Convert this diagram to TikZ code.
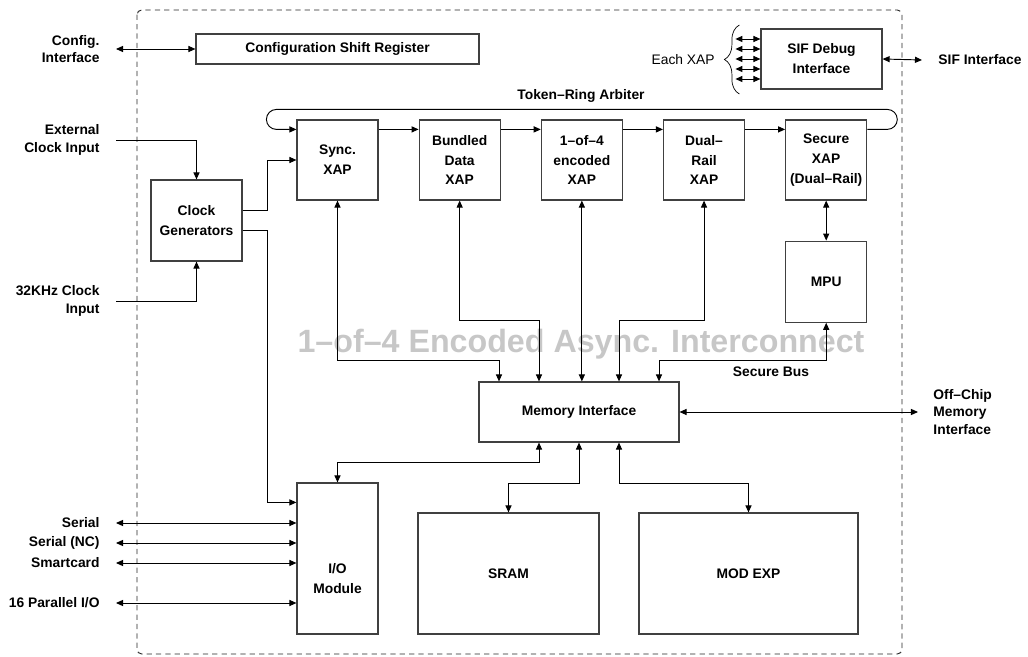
\documentclass[tikz,border=0pt]{standalone}
\usepackage{fontspec}
\setmainfont{Liberation Sans}
\usetikzlibrary{arrows.meta,positioning,decorations.pathreplacing}

\tikzset{
blk/.style={draw=black!75, line width=1pt, inner sep=0pt, align=center, font=\fontsize{11.8}{17}\selectfont\bfseries},
xap/.style={blk, minimum width=2.43cm, minimum height=2.4cm},
txt/.style={align=center, inner sep=2pt, font=\fontsize{11.8}{17}\selectfont\bfseries},
outl/.style={align=right, inner sep=0pt, font=\fontsize{11.8}{15}\selectfont\bfseries},
outr/.style={align=left, inner sep=0pt, font=\fontsize{11.8}{15}\selectfont\bfseries}
}

\begin{document}
\begin{tikzpicture}[x=0.03cm, y=-0.03cm, >={Triangle[length=6pt,width=5.2pt]}, line width=0.8pt, node distance=1.2cm]

\useasboundingbox (0,0) rectangle (1028,657);

\node(wm)[font=\fontsize{27.5}{30}\selectfont\bfseries, text=black!22] at (581,344) {1--of--4 Encoded Async. Interconnect};

\draw [dash pattern=on 4.5pt off 3.5pt, rounded corners=4pt, draw=black!85, line width=0.8pt] (137,10) rectangle (902,654);

\node(csr)[blk, minimum width=8.49cm, minimum height=0.9cm] at (337.5,49) {Configuration Shift Register};

\node(clk)[blk, minimum width=2.73cm, minimum height=2.43cm] at (196.5,220.5) {Clock\\Generators};

\node(sync)[xap] at (337.5,160) {Sync.\\XAP};

\node(bd)[xap, right=of sync] {Bundled\\Data\\XAP};

\node(enc)[xap, right=of bd] {1--of--4\\encoded\\XAP};

\node(dr)[xap, right=of enc] {Dual--\\Rail\\XAP};

\node(sec)[xap, right=of dr] {Secure\\XAP\\(Dual--Rail)};

\node(mpu)[xap, minimum height=2.43cm, below=of sec] {MPU};

\node(sif)[blk, minimum width=3.63cm, minimum height=1.8cm] at (821.5,59) {SIF Debug\\Interface};

\node(mem)[blk, minimum width=6cm, minimum height=1.8cm] at (579,412) {Memory Interface};

\node(io)[blk, minimum width=2.43cm, minimum height=4.53cm, label={[txt, yshift=-0.6cm]center:I/O\\Module}] at (337.5,558.5) {};

\node(sram)[blk, minimum width=5.43cm, minimum height=3.63cm] at (508.5,573.5) {SRAM};

\node(mod)[blk, minimum width=6.57cm, minimum height=3.63cm] at (748.5,573.5) {MOD EXP};

\node(tra)[txt] at (581,96) {Token--Ring Arbiter};

\node(sbus)[txt] at (771,372) {Secure Bus};

\node(each)[font=\fontsize{11.8}{15}\selectfont, anchor=east] at (719,60) {Each XAP};

\coordinate(cfgin) at (116,49);
\coordinate(extin) at (116,140);
\coordinate(slowin) at (116,301);
\coordinate(serin) at (116,523);
\coordinate(ncin) at (116,543);
\coordinate(scin) at (116,563);
\coordinate(parin) at (116,603);
\coordinate(offin) at (918,412);
\coordinate(sifin) at (922,60);

\node(cfgl)[outl, left=0.48cm of cfgin] {Config.\\Interface};

\node(extl)[outl, left=0.48cm of extin] {External\\Clock Input};

\node(slowl)[outl, left=0.48cm of slowin] {32KHz Clock\\Input};

\node(serl)[outl, left=0.48cm of serin] {Serial};

\node(ncl)[outl, left=0.48cm of ncin] {Serial (NC)};

\node(scl)[outl, left=0.48cm of scin] {Smartcard};

\node(parl)[outl, left=0.48cm of parin] {16 Parallel I/O};

\node(offl)[outr, right=0.45cm of offin] {Off--Chip\\Memory\\Interface};

\node(sifl)[outr, right=0.48cm of sifin] {SIF Interface};

\draw [<->] (cfgin) -- (csr.west);
\draw [->] (extin) -| (clk.north);
\draw [->] (slowin) -| (clk.south);
\draw [->] ([yshift=0.3cm]clk.east) -- ++(0.75cm,0) |- (sync.west);
\draw [->] ([yshift=-0.3cm]clk.east) -- ++(0.75cm,0) |- ([yshift=-0.6cm]io.north west);

\draw [->] ([yshift=-0.3cm]sec.north east) -- ++(0.6cm,0) arc (-90:90:0.3cm) -- ([xshift=-0.6cm,yshift=0.3cm]sync.north west) arc (90:270:0.3cm) -- ([yshift=-0.3cm]sync.north west);
\draw [->] ([yshift=-0.3cm]sync.north east) -- ([yshift=-0.3cm]bd.north west);
\draw [->] ([yshift=-0.3cm]bd.north east) -- ([yshift=-0.3cm]enc.north west);
\draw [->] ([yshift=-0.3cm]enc.north east) -- ([yshift=-0.3cm]dr.north west);
\draw [->] ([yshift=-0.3cm]dr.north east) -- ([yshift=-0.3cm]sec.north west);

\draw [<->] (sync.south) |- ([xshift=-2.4cm,yshift=0.63cm]mem.north) -- ([xshift=-2.4cm]mem.north);
\draw [<->] (bd.south) |- ([xshift=-1.2cm,yshift=1.83cm]mem.north) -- ([xshift=-1.2cm]mem.north);
\draw [<->] (enc.south) -- (enc.south |- mem.north);
\draw [<->] (dr.south) |- ([xshift=1.2cm,yshift=1.83cm]mem.north) -- ([xshift=1.2cm]mem.north);
\draw [<->] (mpu.south) |- ([xshift=2.4cm,yshift=0.63cm]mem.north) -- ([xshift=2.4cm]mem.north);
\draw [<->] (sec.south) -- (mpu.north);

\draw [<->] ([xshift=-1.2cm]mem.south) -- ++(0,-0.6cm) -| (io.north);
\draw [<->] (mem.south) -- ++(0,-1.23cm) -| (sram.north);
\draw [<->] ([xshift=1.2cm]mem.south) -- ++(0,-1.23cm) -| (mod.north);
\draw [<->] (mem.east) -- (offin);

\draw [<->] (sif.east) -- (sifin);
\foreach \dy in {-0.6,-0.3,0,0.3,0.6}
  \draw [<->] ([xshift=-0.75cm,yshift=\dy cm]sif.west) -- ([yshift=\dy cm]sif.west);
\draw [decorate, decoration={brace, amplitude=0.45cm}, line width=0.6pt] ([xshift=-0.63cm,yshift=-1.05cm]sif.west) -- ([xshift=-0.63cm,yshift=1.02cm]sif.west);

\draw [<->] (serin) -- (serin -| io.west);
\draw [<->] (ncin) -- (ncin -| io.west);
\draw [<->] (scin) -- (scin -| io.west);
\draw [<->] (parin) -- (parin -| io.west);

\end{tikzpicture}
\end{document}
